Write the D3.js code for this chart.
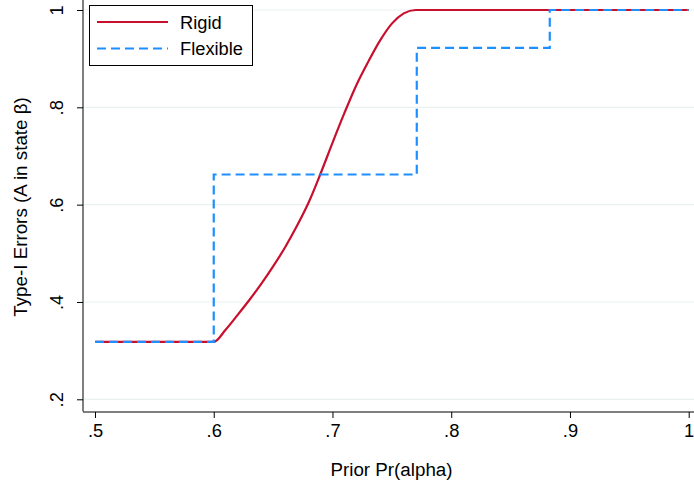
<!DOCTYPE html>
<html><head><meta charset="utf-8">
<script src="https://cdn.jsdelivr.net/npm/d3@7"></script>
<style>body{margin:0;background:#fff}svg{display:block}text{font-family:"Liberation Sans",Arial,sans-serif;fill:#000}</style>
</head><body><svg id="c" width="694" height="486"></svg>
<script>
const xTicks=[0.5,0.6,0.7,0.8,0.9,1.0];
const xTickLabels=[".5",".6",".7",".8",".9","1"];
const yTicks=[0.2,0.4,0.6,0.8,1.0];
const yTickLabels=[".2",".4",".6",".8","1"];
const rigidX=[0.5,0.6,0.61,0.62,0.63,0.64,0.65,0.66,0.67,0.68,0.69,0.70,0.71,0.72,0.73,0.74,0.75,0.76,0.77,1.0];
const rigidY=[0.318,0.318,0.343,0.373,0.404,0.437,0.473,0.512,0.556,0.605,0.664,0.727,0.788,0.845,0.893,0.937,0.972,0.993,1.0,1.0];
const flexX=[0.5,0.6,0.771,0.883,1.0];
const flexY=[0.318,0.662,0.922,1.0,1.0];
const seriesNames=["Rigid","Flexible"];

const svg=d3.select("#c");
const x=d3.scaleLinear().domain([0.5,1]).range([95,688.7]);
const y=d3.scaleLinear().domain([0.2,1]).range([399.3,10]);
const left=83,bottom=412,right=694;
const FS=18.3;

// gridlines
svg.append("g").selectAll("line").data(yTicks).join("line")
 .attr("x1",left).attr("x2",right).attr("y1",d=>y(d)).attr("y2",d=>y(d))
 .attr("stroke","#eaf1f2").attr("stroke-width",1.2);

// axes
const yAxis=d3.axisLeft(y).tickValues(yTicks).tickFormat((d,i)=>yTickLabels[i]).tickSize(6).tickSizeOuter(0);
const gy=svg.append("g").attr("transform",`translate(${left},0)`).call(yAxis);
gy.select(".domain").remove();
gy.append("line").attr("x1",0).attr("x2",0).attr("y1",0).attr("y2",bottom-0.5).attr("stroke","#000");
gy.selectAll(".tick line").attr("stroke","#000");
gy.selectAll(".tick text").attr("font-size",FS).attr("font-family","Liberation Sans, Arial, sans-serif")
 .attr("text-anchor","middle").attr("x",null).attr("dy",null)
 .attr("transform","translate(-20,0) rotate(-90)").attr("y",0).attr("dy",0);

const xAxis=d3.axisBottom(x).tickValues(xTicks).tickFormat((d,i)=>xTickLabels[i]).tickSize(6).tickSizeOuter(0);
const gx=svg.append("g").attr("transform",`translate(0,${bottom})`).call(xAxis);
gx.select(".domain").remove();
gx.append("line").attr("x1",left).attr("x2",right).attr("y1",0).attr("y2",0).attr("stroke","#000");
gx.selectAll(".tick line").attr("stroke","#000");
gx.selectAll(".tick text").attr("font-size",FS).attr("font-family","Liberation Sans, Arial, sans-serif").attr("y",25).attr("dy",0);

// titles
svg.append("text").attr("x",391.5).attr("y",476).attr("text-anchor","middle").attr("font-size",18.8).text("Prior Pr(alpha)");
svg.append("text").attr("transform","translate(26.5,207) rotate(-90)").attr("text-anchor","middle").attr("font-size",18.8).text("Type-I Errors (A in state β)");

// lines
const rigid=rigidX.map((v,i)=>[v,rigidY[i]]);
const flex=flexX.map((v,i)=>[v,flexY[i]]);
svg.append("path").datum(rigid).attr("fill","none").attr("stroke","#c8102e").attr("stroke-width",2.2)
 .attr("d",d3.line().x(d=>x(d[0])).y(d=>y(d[1])).curve(d3.curveMonotoneX));
svg.append("path").datum(flex).attr("fill","none").attr("stroke","#1e8fff").attr("stroke-width",2.2)
 .attr("stroke-dasharray","9,5")
 .attr("d",d3.line().x(d=>x(d[0])).y(d=>y(d[1])).curve(d3.curveStepAfter));

// legend
const lg=svg.append("g");
lg.append("rect").attr("x",89.5).attr("y",5.5).attr("width",163).attr("height",60).attr("fill","#fff").attr("stroke","#000");
lg.append("line").attr("x1",97).attr("x2",168).attr("y1",22).attr("y2",22).attr("stroke","#c8102e").attr("stroke-width",2.2);
lg.append("line").attr("x1",97).attr("x2",168).attr("y1",48.5).attr("y2",48.5).attr("stroke","#1e8fff").attr("stroke-width",2.2).attr("stroke-dasharray","9,5");
lg.append("text").attr("x",180).attr("y",29).attr("font-size",FS).text(seriesNames[0]);
lg.append("text").attr("x",180).attr("y",54.5).attr("font-size",FS).text(seriesNames[1]);
</script></body></html>
